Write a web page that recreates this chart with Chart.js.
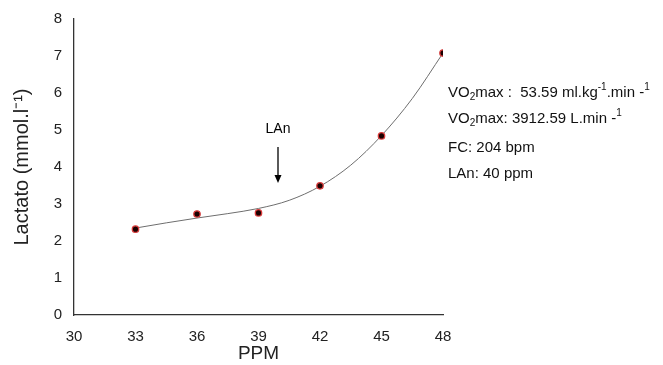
<!DOCTYPE html>
<html>
<head>
<meta charset="utf-8">
<script src="https://cdn.jsdelivr.net/npm/chart.js@4.4.1/dist/chart.umd.min.js"></script>
<style>
  body { margin: 0; background: #fff; }
  #wrap { width: 663px; height: 365px; }
</style>
</head>
<body>
<div id="wrap"><canvas id="myChart"></canvas></div>
<script>
// medidas (PPM vs lactato)
let ppm = [33, 36, 39, 42, 45, 48];
let lactato = [2.32, 2.73, 2.76, 3.49, 4.84, 7.08];

// linea de tendencia
let curvaX = [33, 34.5, 36, 37.5, 39, 40.5, 42, 43.5, 45, 46.5, 48];
let curvaY = [2.35, 2.49, 2.62, 2.74, 2.88, 3.1, 3.48, 4.05, 4.85, 5.85, 7.08];

let xTicks = [30, 33, 36, 39, 42, 45, 48];
let yTicks = [0, 1, 2, 3, 4, 5, 6, 7, 8];

let lanPpm = 40;
let lanLabel = "LAn";

const fuente = "'Liberation Sans', Arial, sans-serif";

const puntos = ppm.map((x, i) => ({ x: x, y: lactato[i] }));
const curva = curvaX.map((x, i) => ({ x: x, y: curvaY[i] }));

// flecha LAn y texto de la derecha
const anotaciones = {
    id: "anotaciones",
    afterDraw(chart) {
        const ctx = chart.ctx;
        const xs = chart.scales.x;
        const ax = xs.getPixelForValue(lanPpm) - 1;
        ctx.save();
        ctx.fillStyle = "#000";
        ctx.strokeStyle = "#000";
        ctx.font = "14px " + fuente;
        ctx.textAlign = "center";
        ctx.textBaseline = "middle";
        ctx.fillText(lanLabel, ax, 129);
        let y0 = 147;
        let y1 = 183;
        ctx.lineWidth = 1.3;
        ctx.beginPath();
        ctx.moveTo(ax, y0);
        ctx.lineTo(ax, y1 - 6);
        ctx.stroke();
        ctx.beginPath();
        ctx.moveTo(ax - 3.5, y1 - 8);
        ctx.lineTo(ax + 3.5, y1 - 8);
        ctx.lineTo(ax, y1);
        ctx.closePath();
        ctx.fill();

        // bloque de texto
        ctx.fillStyle = "#111";
        ctx.textAlign = "left";
        ctx.textBaseline = "alphabetic";
        const lineas = [
            [["VO", 0], ["2", 1], ["max :  53.59 ml.kg", 0], ["-1", 2], [".min -", 0], ["1", 2]],
            [["VO", 0], ["2", 1], ["max: 3912.59 L.min -", 0], ["1", 2]],
            [["FC: 204 bpm", 0]],
            [["LAn: 40 ppm", 0]]
        ];
        const baseY = [97, 123, 152, 178];
        lineas.forEach((partes, i) => {
            let x = 448;
            partes.forEach(p => {
                let dy = 0;
                if (p[1] == 0) {
                    ctx.font = "15px " + fuente;
                } else {
                    ctx.font = "10px " + fuente;
                    dy = p[1] == 1 ? 3 : -7;
                }
                ctx.fillText(p[0], x, baseY[i] + dy);
                x += ctx.measureText(p[0]).width;
            });
        });
        ctx.restore();
    }
};

const config = {
    type: "scatter",
    data: {
        datasets: [{
            label: "curva",
            data: curva,
            showLine: true,
            borderColor: "#6e6e6e",
            borderWidth: 1,
            pointRadius: 0,
            tension: 0.4,
            cubicInterpolationMode: "monotone",
            order: 2
        }, {
            label: "puntos",
            data: puntos,
            backgroundColor: "#1a0000",
            borderColor: "#d83a3a",
            borderWidth: 1.3,
            pointRadius: 3.2,
            order: 1
        }]
    },
    options: {
        responsive: true,
        maintainAspectRatio: false,
        animation: false,
        layout: { padding: { left: 0, right: 220, top: 19, bottom: 0 } },
        plugins: { legend: { display: false }, tooltip: { enabled: false } },
        scales: {
            x: {
                type: "linear",
                min: 30,
                max: 48,
                afterBuildTicks: (s) => { s.ticks = xTicks.map(v => ({ value: v })); },
                afterFit: (s) => { s.height = 50; },
                grid: { display: false, drawOnChartArea: false, drawTicks: true, tickLength: 5, tickColor: "#333" },
                border: { display: true, color: "#333", width: 1.3 },
                ticks: { color: "#222", font: { family: fuente, size: 15 }, padding: 8, maxRotation: 0 },
                title: { display: true, text: "PPM", color: "#222", font: { family: fuente, size: 19 }, padding: { top: 0, bottom: 0 } }
            },
            y: {
                min: 0,
                max: 8,
                afterBuildTicks: (s) => { s.ticks = yTicks.map(v => ({ value: v })); },
                afterFit: (s) => { s.width = 74; },
                grid: { display: false, drawOnChartArea: false, drawTicks: true, tickLength: 5, tickColor: "#333" },
                border: { display: true, color: "#333", width: 1.3 },
                ticks: { color: "#222", font: { family: fuente, size: 15 }, padding: 7 },
                title: { display: true, text: "Lactato (mmol.l\u207B\u00B9)", color: "#222", font: { family: fuente, size: 20 }, padding: { top: 10, bottom: 4 } }
            }
        }
    },
    plugins: [anotaciones]
};

window.onload = () => {
    const myChart = new Chart("myChart", config);
};
</script>
</body>
</html>
